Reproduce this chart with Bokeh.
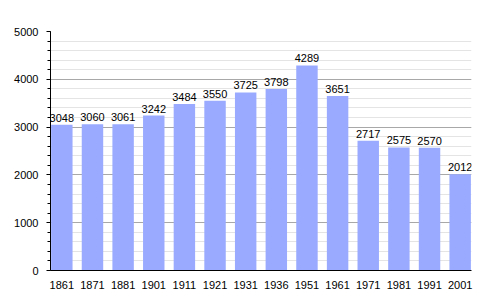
from bokeh.plotting import figure
from bokeh.models import ColumnDataSource, FixedTicker, Range1d
from bokeh.core.properties import value
from bokeh.embed import file_html
from bokeh.resources import INLINE

years = ["1861", "1871", "1881", "1901", "1911", "1921", "1931",
         "1936", "1951", "1961", "1971", "1981", "1991", "2001"]
population = [3048, 3060, 3061, 3242, 3484, 3550, 3725,
              3798, 4289, 3651, 2717, 2575, 2570, 2012]
y_ticks = [0, 1000, 2000, 3000, 4000, 5000]

xs = list(range(len(years)))
src = ColumnDataSource(dict(x=xs, y=population, lbl=[str(v) for v in population]))

FONT = "Liberation Sans"

p = figure(width=500, height=300, output_backend="svg", toolbar_location=None,
           x_range=Range1d(-0.37, len(years) - 1 + 0.37), y_range=Range1d(0, 5000),
           min_border_left=50, min_border_right=29, min_border_top=31, min_border_bottom=30)
p.outline_line_color = None
p.background_fill_color = "white"
p.border_fill_color = "white"

p.vbar(x="x", top="y", width=0.7, source=src, fill_color="#9aabff", line_color=None)
p.text(x="x", y="y", text="lbl", source=src, text_align="center", text_baseline="bottom",
       y_offset=-3, text_font=value(FONT), text_font_size="11px", text_color="black")

p.yaxis.ticker = FixedTicker(ticks=y_ticks, minor_ticks=list(range(0, 5001, 200)))
p.yaxis.major_tick_out = 4
p.yaxis.major_tick_in = 0
p.yaxis.minor_tick_out = 3
p.yaxis.minor_tick_in = 0
p.yaxis.major_label_standoff = 8
p.yaxis.major_label_text_font = FONT
p.yaxis.major_label_text_font_size = "11px"
p.yaxis.major_label_text_color = "black"
p.yaxis.axis_line_color = "black"

p.xaxis.ticker = FixedTicker(ticks=xs)
p.xaxis.major_label_overrides = {i: y for i, y in enumerate(years)}
p.xaxis.major_tick_line_color = None
p.xaxis.minor_tick_line_color = None
p.xaxis.major_label_standoff = 4
p.xaxis.major_label_text_font = FONT
p.xaxis.major_label_text_font_size = "11px"
p.xaxis.major_label_text_color = "black"
p.xaxis.axis_line_color = "black"

p.xgrid.grid_line_color = None
p.ygrid.grid_line_color = "#a8a8a8"
p.ygrid.minor_grid_line_color = "#e4e4e4"

open("out.html", "w").write(file_html(p, INLINE))
